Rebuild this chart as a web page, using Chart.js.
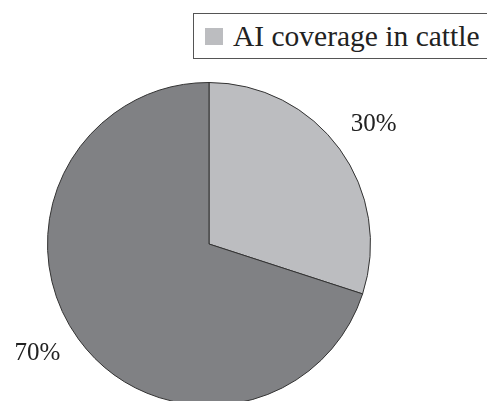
<!DOCTYPE html>
<html lang="en">
<head>
    <meta charset="UTF-8">
    <title>AI coverage in cattle</title>
    <script src="https://cdn.jsdelivr.net/npm/chart.js"></script>
    <style>
        html, body { margin: 0; padding: 0; background: #fff; overflow: hidden; }
        body { width: 487px; height: 401px; position: relative; }
        #wrap { position: absolute; left: 0; top: 0; width: 487px; height: 420px; }
        .legend {
            position: absolute; left: 193px; top: 13px; width: 310px; height: 44px;
            border: 1px solid #555; background: #fff;
            font-family: "Liberation Serif", serif; font-size: 29.5px; color: #222;
            display: flex; align-items: center;
        }
        .legend .swatch { width: 18px; height: 17px; background: #bcbdc0; margin-left: 11px; margin-right: 10px; }
    </style>
</head>
<body>
    <div id="wrap"><canvas id="pieChart"></canvas></div>
    <div class="legend"><span class="swatch"></span><span id="legend-label"></span></div>

    <script>
        // chart data
        const labels = ['AI coverage in cattle', 'Not covered'];
        const values = [30, 70];
        const colors = ['#bcbdc0', '#808184'];

        document.getElementById('legend-label').textContent = labels[0];

        // percentage labels outside each slice
        const outerLabels = {
            id: 'outerLabels',
            afterDatasetsDraw(chart) {
                const ctx = chart.ctx;
                const total = values.reduce((a, b) => a + b, 0);
                ctx.save();
                ctx.font = '25px "Liberation Serif", serif';
                ctx.fillStyle = '#222';
                ctx.textAlign = 'center';
                ctx.textBaseline = 'middle';
                chart.getDatasetMeta(0).data.forEach((arc, i) => {
                    // left-side label sits a little higher in the original
                    const mid = (arc.startAngle + arc.endAngle) / 2 + (i === 1 ? 0.06 : 0);
                    const r = arc.outerRadius * 1.26;
                    const x = arc.x + Math.cos(mid) * r;
                    const y = arc.y + Math.sin(mid) * r;
                    ctx.fillText(Math.round(values[i] / total * 100) + '%', x, y);
                });
                ctx.restore();
            }
        };

        new Chart(document.getElementById('pieChart'), {
            type: 'pie',
            data: {
                labels: labels,
                datasets: [{
                    data: values,
                    backgroundColor: colors,
                    borderColor: '#333',
                    borderWidth: 1
                }]
            },
            options: {
                responsive: true,
                maintainAspectRatio: false,
                animation: false,
                layout: { padding: { left: 47, top: 82, right: 116, bottom: 14 } },
                plugins: {
                    legend: { display: false },
                    tooltip: { enabled: false }
                }
            },
            plugins: [outerLabels]
        });
    </script>
</body>
</html>
